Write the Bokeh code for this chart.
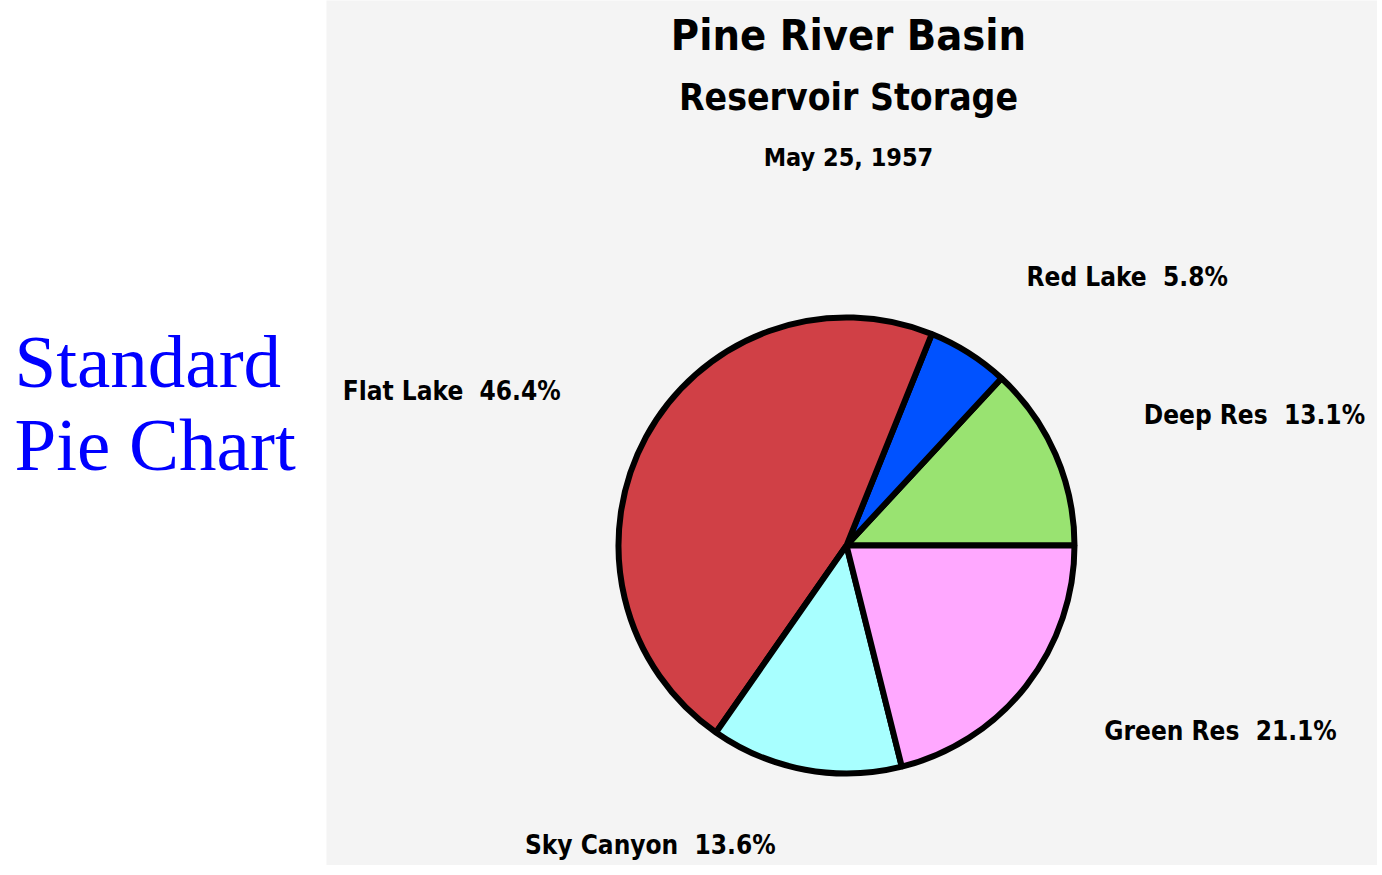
import math
from bokeh.plotting import figure
from bokeh.layouts import row
from bokeh.models import ColumnDataSource, Range1d
from bokeh.core.properties import value
from bokeh.embed import file_html
from bokeh.resources import INLINE

# ---- data ----
names = ["Deep Res", "Red Lake", "Flat Lake", "Sky Canyon", "Green Res"]
percents = [13.1, 5.8, 46.4, 13.6, 21.1]
colors = ["#99E371", "#0052FF", "#D04046", "#A8FFFF", "#FFA8FF"]
title_lines = ["Pine River Basin", "Reservoir Storage", "May 25, 1957"]
side_lines = ["Standard", "Pie Chart"]

FONT = "DejaVu Sans Condensed"
H = 865
LW, RW = 326, 1051

# ---- left panel ----
left = figure(width=LW, height=H, x_range=Range1d(0, LW), y_range=Range1d(0, H),
              output_backend="svg", toolbar_location=None, min_border=0,
              x_axis_type=None, y_axis_type=None)
left.grid.visible = False
left.outline_line_color = None
left.background_fill_color = "white"
left.border_fill_color = "white"
left.text(x=[14, 14], y=[504, 421], text=side_lines,
          text_font=value("Liberation Serif"), text_font_size="75px",
          text_color="#0000FF", text_align="left", text_baseline="middle")

# ---- right panel (pie) ----
p = figure(width=RW, height=H, x_range=Range1d(0, RW), y_range=Range1d(0, H),
           output_backend="svg", toolbar_location=None, min_border=0,
           x_axis_type=None, y_axis_type=None)
p.grid.visible = False
p.outline_line_color = None
p.background_fill_color = "#F4F4F4"
p.border_fill_color = "#F4F4F4"

cx, cy, r = 520, 320, 228
total = sum(percents)
starts, ends, mids = [], [], []
acc = 0.0
for v in percents:
    a0 = acc / total * 2 * math.pi
    acc += v
    a1 = acc / total * 2 * math.pi
    starts.append(a0)
    ends.append(a1)
    mids.append((a0 + a1) / 2)

src = ColumnDataSource(dict(x=[cx] * len(names), y=[cy] * len(names),
                            start=starts, end=ends, color=colors))
p.wedge(x="x", y="y", radius=r, start_angle="start", end_angle="end",
        fill_color="color", line_color="black", line_width=6, source=src)

# titles
tx = cx + 2
p.text(x=[tx], y=[831], text=[title_lines[0]], text_font=value(FONT),
       text_font_style="bold", text_font_size="43px", text_color="black",
       text_align="center", text_baseline="middle")
p.text(x=[tx], y=[768], text=[title_lines[1]], text_font=value(FONT),
       text_font_style="bold", text_font_size="37px", text_color="black",
       text_align="center", text_baseline="middle")
p.text(x=[tx], y=[708], text=[title_lines[2]], text_font=value(FONT),
       text_font_style="bold", text_font_size="25px", text_color="black",
       text_align="center", text_baseline="middle")

# slice labels
lrx, lgap, lry, loff = 308, 15, 311, 6
lx_r, ly_r, lt_r, lx_l, ly_l, lt_l = [], [], [], [], [], []
for n, v, m in zip(names, percents, mids):
    lab = f"{n}\u00a0 {v:.1f}%"
    c = math.cos(m)
    sgn = 1 if c >= 0 else -1
    x = cx + lrx * c + sgn * lgap
    y = cy + loff + lry * math.sin(m)
    if sgn > 0:
        lx_r.append(x); ly_r.append(y); lt_r.append(lab)
    else:
        lx_l.append(x); ly_l.append(y); lt_l.append(lab)

p.text(x=lx_r, y=ly_r, text=lt_r, text_font=value(FONT), text_font_style="bold",
       text_font_size="26px", text_color="black", text_align="left",
       text_baseline="middle")
p.text(x=lx_l, y=ly_l, text=lt_l, text_font=value(FONT), text_font_style="bold",
       text_font_size="26px", text_color="black", text_align="right",
       text_baseline="middle")

layout = row(left, p)
open("out.html", "w").write(file_html(layout, INLINE))
